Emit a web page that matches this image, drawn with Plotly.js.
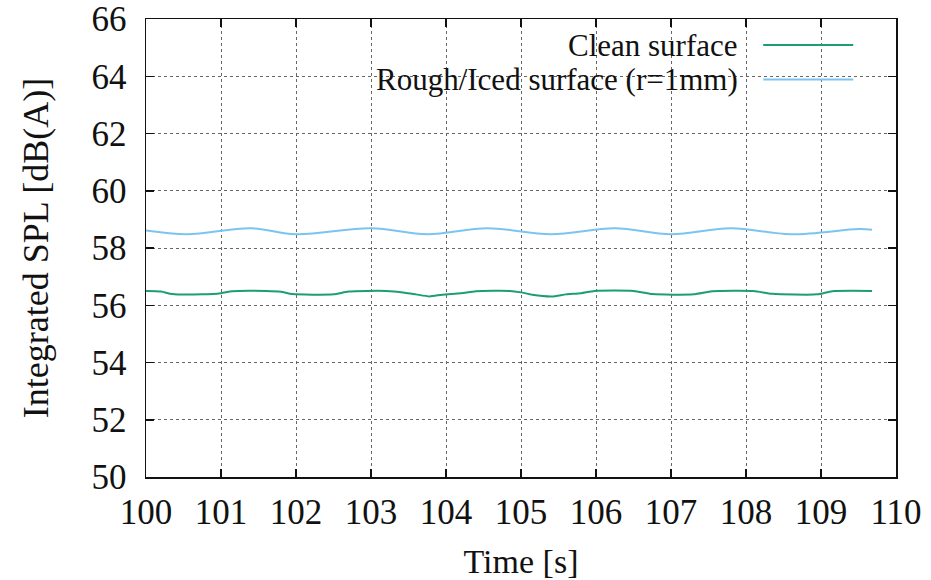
<!DOCTYPE html>
<html>
<head>
<meta charset="utf-8">
<script src="https://cdn.plot.ly/plotly-3.0.1.min.js"></script>
<style>html,body{margin:0;padding:0;background:#fff;}#chart{width:931px;height:580px;}</style>
</head>
<body>
<div id="chart"></div>
<script>
var seriesNames = ["Clean surface", "Rough/Iced surface (r=1mm)"];
var seriesColors = ["#1a9e72", "#7cc4ef"];

var cleanTime = [100.0,100.2,100.35,100.75,101.0,101.15,101.6,101.8,101.95,102.5,102.7,103.2,103.45,103.6,103.78,103.95,104.2,104.4,104.85,105.0,105.15,105.41,105.6,105.8,105.98,106.5,106.75,107.3,107.55,108.1,108.35,108.95,109.15,109.68];
var cleanSPL  = [56.5,56.48,56.39,56.38,56.42,56.49,56.5,56.47,56.39,56.38,56.48,56.5,56.44,56.38,56.31,56.37,56.42,56.49,56.5,56.45,56.37,56.31,56.38,56.42,56.5,56.5,56.39,56.38,56.49,56.5,56.4,56.38,56.49,56.5];

var roughTime = [100.0,100.55,101.4,102.0,103.0,103.75,104.55,105.4,106.25,107.0,107.8,108.6,109.5,109.68];
var roughSPL  = [58.61,58.48,58.69,58.48,58.69,58.48,58.69,58.48,58.69,58.48,58.69,58.48,58.66,58.64];

var xTicks = [100,101,102,103,104,105,106,107,108,109,110];
var yTicks = [50,52,54,56,58,60,62,64,66];

var fontFamily = "Liberation Serif, Times New Roman, serif";

var traces = [
  {x: cleanTime, y: cleanSPL, name: seriesNames[0], mode: "lines", type: "scatter",
   line: {color: seriesColors[0], width: 2, shape: "spline", smoothing: 0.6}},
  {x: roughTime, y: roughSPL, name: seriesNames[1], mode: "lines", type: "scatter",
   line: {color: seriesColors[1], width: 2, shape: "spline", smoothing: 1}}
];

var legendTextX = 0.792, lineX0 = 0.823, lineX1 = 0.943;
var legendY = [0.943, 0.868];

var shapes = [
  {type: "rect", xref: "paper", yref: "paper", x0: 0.079, x1: 0.965, y0: 0.832, y1: 0.978,
   fillcolor: "#ffffff", line: {width: 0}, layer: "between"}
];
var annotations = [];
for (var i = 0; i < seriesNames.length; i++) {
  shapes.push({type: "line", xref: "paper", yref: "paper", x0: lineX0, x1: lineX1, y0: legendY[i], y1: legendY[i],
    line: {color: seriesColors[i], width: 2}, layer: "above"});
  annotations.push({xref: "paper", yref: "paper", x: legendTextX, y: legendY[i], xanchor: "right", yanchor: "middle",
    text: seriesNames[i], showarrow: false, font: {family: fontFamily, size: 31, color: "#111"}});
}

var layout = {
  width: 931, height: 580,
  margin: {l: 146, r: 35, t: 19, b: 103},
  paper_bgcolor: "#fff", plot_bgcolor: "#fff",
  showlegend: false,
  font: {family: fontFamily, size: 35, color: "#111"},
  xaxis: {
    range: [100, 110], tickvals: xTicks, ticktext: xTicks.map(String),
    showline: true, linecolor: "#111", linewidth: 1.5, mirror: "allticks",
    ticks: "inside", ticklen: 8, tickwidth: 1.5, tickcolor: "#111",
    showgrid: true, gridcolor: "#666", griddash: "dot", gridwidth: 1,
    zeroline: false, ticklabelstandoff: 3,
    tickfont: {family: fontFamily, size: 35},
    title: {text: "Time [s]", font: {family: fontFamily, size: 34}, standoff: 24}
  },
  yaxis: {
    range: [50, 66], tickvals: yTicks, ticktext: yTicks.map(String),
    showline: true, linecolor: "#111", linewidth: 1.5, mirror: "allticks",
    ticks: "inside", ticklen: 8, tickwidth: 1.5, tickcolor: "#111",
    showgrid: true, gridcolor: "#666", griddash: "dot", gridwidth: 1,
    zeroline: false, ticklabelstandoff: 11,
    tickfont: {family: fontFamily, size: 35},
    title: {text: "Integrated SPL [dB(A)]", font: {family: fontFamily, size: 36}, standoff: 32}
  },
  shapes: shapes,
  annotations: annotations
};

Plotly.newPlot("chart", traces, layout, {staticPlot: true, displayModeBar: false});
</script>
</body>
</html>
